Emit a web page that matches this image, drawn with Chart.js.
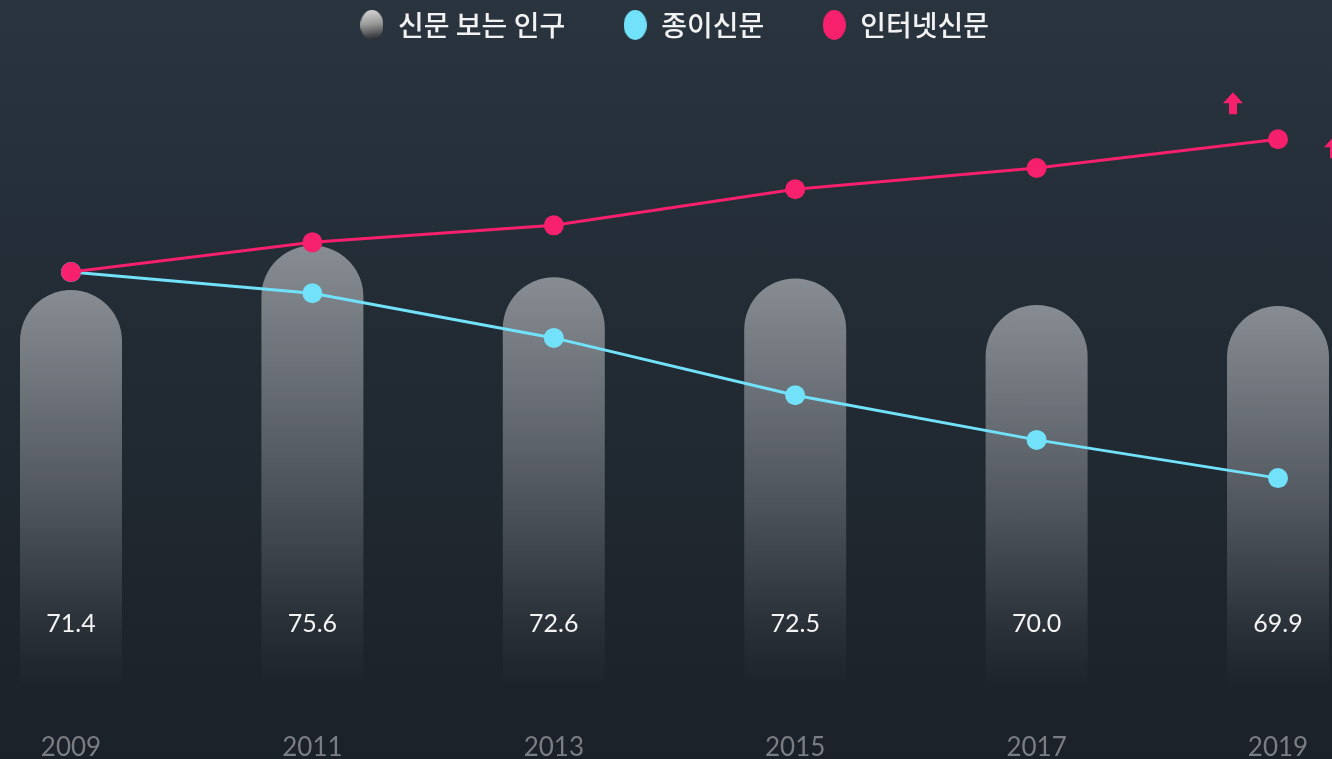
<!DOCTYPE html>
<html lang="ko">
<head>
<meta charset="utf-8">
<title>신문 보는 인구</title>
<script src="https://cdn.jsdelivr.net/npm/chart.js@4/dist/chart.umd.min.js"></script>
<style>
  html, body { margin: 0; padding: 0; }
  body { background: linear-gradient(180deg, #29343e 0%, #222b34 45%, #1b2128 100%); }
  #wrap { width: 1332px; height: 759px; position: relative; }
</style>
</head>
<body>
<div id="wrap"><canvas id="renderCanva"></canvas></div>
<script>
const ctx = document.querySelector("#renderCanva");

// 데이터
const years = ["2009", "2011", "2013", "2015", "2017", "2019"];
const readers = [71.4, 75.6, 72.6, 72.5, 70.0, 69.9]; // 신문 보는 인구
const paper = [73.1, 71.1, 66.9, 61.5, 57.3, 53.7]; // 종이신문
const internet = [73.1, 75.9, 77.5, 80.9, 82.9, 85.6]; // 인터넷신문

const pink = "#f7206c";
const cyan = "#72e1fa";

// 범례 아이콘 (타원)
const legendIcon = (fill) => {
  const c = document.createElement("canvas");
  c.width = 23;
  c.height = 30;
  const g = c.getContext("2d");
  g.beginPath();
  g.ellipse(11.5, 15, 11.5, 15, 0, 0, Math.PI * 2);
  if (fill === "grey") {
    const grad = g.createLinearGradient(0, 0, 4, 30);
    grad.addColorStop(0, "#d8d8d8");
    grad.addColorStop(0.5, "#9a9a9a");
    grad.addColorStop(1, "#2e3236");
    g.fillStyle = grad;
  } else {
    g.fillStyle = fill;
  }
  g.fill();
  return c;
};
const icons = [legendIcon("grey"), legendIcon(cyan), legendIcon(pink)];

// 막대 그라데이션
const barGradient = (context) => {
  const chart = context.chart;
  const area = chart.chartArea;
  if (!area || context.type !== "data") return "rgba(190,193,197,0.5)";
  const top = chart.scales.y.getPixelForValue(context.raw);
  const grad = chart.ctx.createLinearGradient(0, top, 0, area.bottom);
  grad.addColorStop(0, "rgba(192,195,199,0.64)");
  grad.addColorStop(0.5, "rgba(192,195,199,0.3)");
  grad.addColorStop(0.8, "rgba(192,195,199,0.08)");
  grad.addColorStop(0.95, "rgba(192,195,199,0)");
  return grad;
};

// 막대 안의 숫자
const valueLabels = {
  id: "valueLabels",
  afterDatasetsDraw(chart) {
    const meta = chart.getDatasetMeta(0);
    const c = chart.ctx;
    c.save();
    c.font = "400 25px Lato";
    c.fillStyle = "#f4f4f4";
    c.textAlign = "center";
    c.textBaseline = "middle";
    meta.data.forEach((bar, i) => {
      c.fillText(readers[i].toFixed(1), bar.x, chart.chartArea.bottom - 88);
    });
    c.restore();
  },
};

// 인터넷신문 상승 화살표
const upArrows = {
  id: "upArrows",
  afterDatasetsDraw(chart) {
    const meta = chart.getDatasetMeta(2);
    const last = meta.data[meta.data.length - 1];
    if (!last) return;
    const c = chart.ctx;
    const arrow = (x, y) => {
      c.beginPath();
      c.moveTo(x, y - 11);
      c.lineTo(x + 10, y);
      c.lineTo(x + 4, y);
      c.lineTo(x + 4, y + 11);
      c.lineTo(x - 4, y + 11);
      c.lineTo(x - 4, y);
      c.lineTo(x - 10, y);
      c.closePath();
      c.fill();
    };
    c.save();
    c.fillStyle = pink;
    arrow(last.x - 45, last.y - 36);
    arrow(last.x + 56, last.y + 8);
    c.restore();
  },
};

const myChart = new Chart(ctx, {
  data: {
    labels: years,
    datasets: [
      {
        type: "bar",
        label: "신문 보는 인구",
        data: readers,
        backgroundColor: barGradient,
        borderWidth: 0,
        borderRadius: { topLeft: 60, topRight: 60, bottomLeft: 0, bottomRight: 0 },
        borderSkipped: "bottom",
        barPercentage: 0.4225,
        categoryPercentage: 1,
        clip: false,
        order: 3,
      },
      {
        type: "line",
        label: "종이신문",
        data: paper,
        borderColor: cyan,
        backgroundColor: cyan,
        borderWidth: 3,
        pointRadius: 10,
        pointBorderWidth: 0,
        pointBackgroundColor: cyan,
        tension: 0,
        clip: false,
        order: 2,
      },
      {
        type: "line",
        label: "인터넷신문",
        data: internet,
        borderColor: pink,
        backgroundColor: pink,
        borderWidth: 3,
        pointRadius: 10,
        pointBorderWidth: 0,
        pointBackgroundColor: pink,
        tension: 0,
        clip: false,
        order: 1,
      },
    ],
  },
  options: {
    responsive: true,
    maintainAspectRatio: false,
    animation: false,
    layout: {
      padding: { left: 71, right: 54, top: -47, bottom: -24 },
    },
    plugins: {
      tooltip: { enabled: false },
      legend: {
        display: true,
        position: "top",
        labels: {
          usePointStyle: true,
          pointStyleWidth: 24,
          padding: 58,
          color: "#f2f2f2",
          font: { family: "'Noto Sans CJK KR', 'Noto Sans'", size: 28, weight: "500" },
          generateLabels: (chart) =>
            chart.data.datasets.map((ds, i) => ({
              text: ds.label,
              pointStyle: icons[i],
              fillStyle: "transparent",
              strokeStyle: "transparent",
              lineWidth: 0,
              fontColor: "#f2f2f2",
              hidden: false,
              datasetIndex: i,
            })),
        },
      },
    },
    scales: {
      x: {
        type: "category",
        offset: false,
        grid: { display: false, drawTicks: false },
        border: { display: false },
        ticks: {
          color: "#7a7e83",
          font: { family: "Lato", size: 26, weight: "400" },
          padding: 20,
          autoSkip: false,
          maxRotation: 0,
        },
      },
      y: {
        display: false,
        min: 31.7,
        max: 94.1,
      },
    },
  },
  plugins: [valueLabels, upArrows],
});
</script>
</body>
</html>
